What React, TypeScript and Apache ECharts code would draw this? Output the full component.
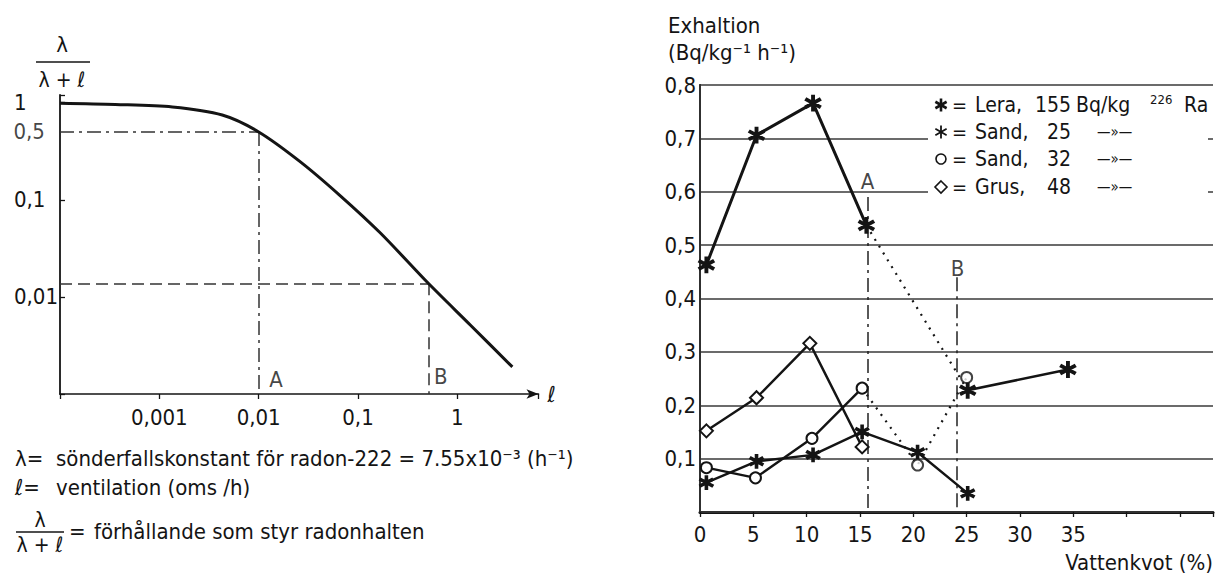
import React, { useEffect, useRef } from 'react';
import * as echarts from 'echarts';

const FONT = "'DejaVu Sans Condensed', 'Liberation Sans Narrow', 'DejaVu Sans', sans-serif";
const INK = '#141414';
const GRIDC = '#3a3a3a';
const FS = 22;

// ---------- Left panel: λ/(λ+ℓ) versus ventilation ℓ ----------
const ventilation = [0.0001, 0.00036, 0.00135, 0.0043, 0.01, 0.0263, 0.0664, 0.168, 0.51, 1.35, 3.58];
const ratio = [0.986, 0.958, 0.903, 0.747, 0.5, 0.246, 0.11, 0.0455, 0.0138, 0.00514, 0.0019];
const leftXLabels: Record<string, string> = { '-3': '0,001', '-2': '0,01', '-1': '0,1', '0': '1' };
const leftYLabels: Record<string, string> = { '-2': '0,01', '-1': '0,1', '0': '1' };
const ventA = 0.01;
const ratioA = 0.5;
const ventB = 0.51;
const ratioB = 0.0138;
const leftXMin = 0.0001;
const leftXMax = 6.56;
const leftYMin = 0.001;
const leftYMax = 1.2;

// ---------- Right panel: exhalation versus water ratio ----------
const leraSolid = [[0.6, 0.463], [5.3, 0.706], [10.6, 0.766], [15.6, 0.537]];
const leraDotted = [[15.6, 0.537], [25.1, 0.228]];
const leraTail = [[25.1, 0.228], [34.5, 0.267]];
const sand25 = [[0.6, 0.055], [5.3, 0.095], [10.6, 0.107], [15.2, 0.15], [20.4, 0.112], [25.1, 0.035]];
const sand32Solid = [[0.6, 0.083], [5.2, 0.064], [10.5, 0.138], [15.2, 0.232]];
const sand32Dotted = [[15.2, 0.232], [20.4, 0.088], [25, 0.252]];
const grus = [[0.6, 0.152], [5.3, 0.214], [10.3, 0.316], [15.2, 0.122]];
const markA = 15.75;
const markATop = 0.59;
const markB = 24.1;
const markBTop = 0.44;
const rightXMax = 48.1;
const rightXLastLabel = 35;

const legendKinds = ['asteriskBold', 'asterisk', 'circle', 'diamond'];
const legendNames = ['Lera,', 'Sand,', 'Sand,', 'Grus,'];
const legendActivity = ['155', '25', '32', '48'];

const ASTERISK =
  'path://M-1.3,-10L1.3,-10L1.3,10L-1.3,10ZM8.01,-6.13L9.31,-3.87L-8.01,6.13L-9.31,3.87ZM9.31,3.87L8.01,6.13L-9.31,-3.87L-8.01,-6.13Z';

const logLabel = (map: Record<string, string>) => (v: number) => {
  const l = Math.log10(v);
  const r = Math.round(l);
  if (Math.abs(l - r) > 0.01) return '';
  return map[String(r)] ?? '';
};

const txt = (text: string, x: number, y: number, extra: any = {}) => ({
  type: 'text',
  x,
  y,
  z: 20,
  silent: true,
  style: {
    text,
    fontSize: FS,
    fontFamily: FONT,
    fill: INK,
    textAlign: 'left',
    align: 'left',
    textVerticalAlign: 'middle',
    verticalAlign: 'middle',
    ...extra,
  },
});

const hline = (x1: number, x2: number, y: number, w = 1.4) => ({
  type: 'line',
  z: 20,
  silent: true,
  shape: { x1, y1: y, x2, y2: y },
  style: { stroke: INK, lineWidth: w },
});

const legendMarks = (kind: string, cx: number, cy: number): any[] => {
  if (kind === 'circle') {
    return [{ type: 'circle', z: 20, silent: true, shape: { cx, cy, r: 5 }, style: { fill: '#fff', stroke: INK, lineWidth: 1.6 } }];
  }
  if (kind === 'diamond') {
    return [
      {
        type: 'polygon',
        z: 20,
        silent: true,
        shape: { points: [[cx, cy - 6], [cx + 6, cy], [cx, cy + 6], [cx - 6, cy]] },
        style: { fill: '#fff', stroke: INK, lineWidth: 1.6 },
      },
    ];
  }
  const r = 6.5;
  const w = kind === 'asteriskBold' ? 2.6 : 1.8;
  return [90, 30, 150].map((deg) => {
    const a = (deg * Math.PI) / 180;
    return {
      type: 'line',
      z: 20,
      silent: true,
      shape: { x1: cx - r * Math.cos(a), y1: cy - r * Math.sin(a), x2: cx + r * Math.cos(a), y2: cy + r * Math.sin(a) },
      style: { stroke: INK, lineWidth: w },
    };
  });
};

export default function App() {
  const ref = useRef<HTMLDivElement>(null);

  useEffect(() => {
    if (!ref.current) return;
    const chart = echarts.init(ref.current, null, { renderer: 'svg' });

    const solid = (data: number[][], symbol: string, size: number, width: number, name: string) => ({
      type: 'line',
      name,
      xAxisIndex: 1,
      yAxisIndex: 1,
      data,
      symbol,
      symbolSize: size,
      showSymbol: true,
      lineStyle: { color: INK, width },
      itemStyle: { color: INK, borderColor: INK, borderWidth: 1.8 },
      z: 5,
    });
    const dotted = (data: number[][], name: string) => ({
      type: 'line',
      name,
      xAxisIndex: 1,
      yAxisIndex: 1,
      data,
      symbol: 'none',
      lineStyle: { color: INK, width: 2.2, type: [2, 6] },
      z: 4,
    });

    const legendGraphic: any[] = [
      { type: 'rect', silent: true, z: 15, shape: { x: 928, y: 92, width: 280, height: 108 }, style: { fill: '#fff' } },
    ];
    const rowsY = [105, 132, 159, 187];
    rowsY.forEach((y, i) => {
      legendGraphic.push(...legendMarks(legendKinds[i], 941, y));
      legendGraphic.push(txt('=', 952, y, { fontSize: 20 }));
      legendGraphic.push(txt(legendNames[i], 975, y, { fontSize: 21 }));
      legendGraphic.push(txt(legendActivity[i], 1071, y, { textAlign: 'right', align: 'right', fontSize: 21 }));
      if (i === 0) {
        legendGraphic.push(txt('Bq/kg', 1076, y, { fontSize: 21 }));
        legendGraphic.push(txt('226', 1150, y - 6, { fontSize: 13 }));
        legendGraphic.push(txt('Ra', 1184, y, { fontSize: 21 }));
      } else {
        legendGraphic.push(txt('—»—', 1097, y, { fontSize: 15 }));
      }
    });

    const pointLabel = { show: true, formatter: '{b}', position: [0, 0], align: 'center', verticalAlign: 'middle', fontSize: FS, color: INK };

    const option: any = {
      animation: false,
      backgroundColor: '#fff',
      textStyle: { fontFamily: FONT, color: INK },
      grid: [
        { left: 60, top: 95, width: 478.5, height: 299, containLabel: false },
        { left: 700, top: 85, width: 513, height: 427, containLabel: false },
      ],
      xAxis: [
        {
          type: 'log',
          gridIndex: 0,
          logBase: 10,
          min: leftXMin,
          max: leftXMax,
          name: 'ℓ',
          nameLocation: 'end',
          nameGap: 9,
          nameTextStyle: { fontSize: FS, color: INK, fontFamily: FONT, verticalAlign: 'middle' },
          axisLine: { show: true, lineStyle: { color: INK, width: 1.6 }, symbol: ['none', 'arrow'], symbolSize: [7, 12] },
          axisTick: { show: true, length: 5, lineStyle: { color: INK, width: 1.3 } },
          axisLabel: { fontSize: FS, color: INK, margin: 12, formatter: logLabel(leftXLabels), showMinLabel: true, showMaxLabel: true },
          splitLine: { show: false },
          minorTick: { show: false },
        },
        {
          type: 'value',
          gridIndex: 1,
          min: 0,
          max: rightXMax,
          interval: 5,
          name: 'Vattenkvot (%)',
          nameLocation: 'end',
          nameGap: 0,
          nameTextStyle: { fontSize: FS, color: INK, fontFamily: FONT, align: 'right', verticalAlign: 'top', padding: [39, 0, 0, 0] },
          axisLine: { show: true, lineStyle: { color: INK, width: 3 } },
          axisTick: { show: true, length: 5, lineStyle: { color: INK, width: 1.3 } },
          axisLabel: {
            fontSize: FS,
            color: INK,
            margin: 11,
            formatter: (v: number) => (v <= rightXLastLabel + 0.01 && Math.abs(v % 5) < 0.01 ? String(v) : ''),
          },
          splitLine: { show: false },
        },
        {
          type: 'value',
          gridIndex: 1,
          position: 'top',
          min: 0,
          max: rightXMax,
          interval: 5,
          axisLine: { show: true, lineStyle: { color: GRIDC, width: 1.5 } },
          axisTick: { show: false },
          axisLabel: { show: false },
          splitLine: { show: false },
        },
      ],
      yAxis: [
        {
          type: 'log',
          gridIndex: 0,
          logBase: 10,
          min: leftYMin,
          max: leftYMax,
          axisLine: { show: true, lineStyle: { color: INK, width: 1.8 } },
          axisTick: { show: true, inside: true, length: 5, lineStyle: { color: INK, width: 1.3 } },
          axisLabel: { fontSize: FS, color: INK, align: 'left', margin: 46, formatter: logLabel(leftYLabels) },
          splitLine: { show: false },
          minorTick: { show: false },
        },
        {
          type: 'value',
          gridIndex: 1,
          min: 0,
          max: 0.8,
          interval: 0.1,
          axisLine: { show: true, lineStyle: { color: INK, width: 2 } },
          axisTick: { show: false },
          axisLabel: {
            fontSize: FS,
            color: INK,
            margin: 4,
            formatter: (v: number) => (v < 0.05 ? '' : v.toFixed(1).replace('.', ',')),
          },
          splitLine: { show: true, lineStyle: { color: GRIDC, width: 1.5 } },
        },
        {
          type: 'value',
          gridIndex: 1,
          position: 'right',
          min: 0,
          max: 0.8,
          interval: 0.1,
          axisLine: { show: true, lineStyle: { color: GRIDC, width: 1.5 } },
          axisTick: { show: false },
          axisLabel: { show: false },
          splitLine: { show: false },
        },
      ],
      series: [
        {
          type: 'line',
          name: 'ratio',
          xAxisIndex: 0,
          yAxisIndex: 0,
          data: ventilation.map((v, i) => [v, ratio[i]]),
          smooth: 0.3,
          symbol: 'none',
          lineStyle: { color: INK, width: 3 },
          z: 5,
          markLine: {
            silent: true,
            symbol: 'none',
            label: { show: false },
            data: [
              [
                { coord: [leftXMin, ratioA], lineStyle: { type: [14, 5, 3, 5] } },
                { coord: [ventA, ratioA] },
              ],
              [
                { coord: [ventA, ratioA], lineStyle: { type: [14, 5, 3, 5] } },
                { coord: [ventA, leftYMin] },
              ],
              [
                { coord: [leftXMin, ratioB], lineStyle: { type: [12, 6] } },
                { coord: [ventB, ratioB] },
              ],
              [
                { coord: [ventB, ratioB], lineStyle: { type: [12, 6] } },
                { coord: [ventB, leftYMin] },
              ],
            ],
            lineStyle: { color: '#333', width: 1.5 },
          },
        },
        {
          type: 'scatter',
          name: 'left-labels',
          xAxisIndex: 0,
          yAxisIndex: 0,
          symbolSize: 1,
          itemStyle: { color: 'rgba(0,0,0,0)' },
          data: [
            { name: 'A', value: [0.0151, 0.0014] },
            { name: 'B', value: [0.69, 0.0015] },
          ],
          label: pointLabel,
          z: 6,
        },
        {
          type: 'scatter',
          name: 'half-label',
          xAxisIndex: 0,
          yAxisIndex: 0,
          symbolSize: 1,
          itemStyle: { color: 'rgba(0,0,0,0)' },
          data: [{ name: '0,5', value: [leftXMin, ratioA] }],
          label: { show: true, formatter: '{b}', position: [-46, 0], align: 'left', verticalAlign: 'middle', fontSize: FS, color: INK },
        },
        {
          ...solid(leraSolid, ASTERISK, 15, 3, 'Lera'),
          markLine: {
            silent: true,
            symbol: 'none',
            label: { show: false },
            lineStyle: { color: '#222', width: 1.5, type: [14, 5, 3, 5] },
            data: [
              [{ coord: [markA, markATop] }, { coord: [markA, 0] }],
              [{ coord: [markB, markBTop] }, { coord: [markB, 0] }],
            ],
          },
        },
        dotted(leraDotted, 'Lera gap'),
        solid(leraTail, ASTERISK, 15, 2.6, 'Lera tail'),
        solid(sand25, ASTERISK, 13, 2.4, 'Sand 25'),
        solid(sand32Solid, 'emptyCircle', 11, 2.4, 'Sand 32'),
        dotted(sand32Dotted, 'Sand 32 gap'),
        {
          type: 'scatter',
          name: 'Sand 32 wet',
          xAxisIndex: 1,
          yAxisIndex: 1,
          data: sand32Dotted.slice(1),
          symbol: 'emptyCircle',
          symbolSize: 11,
          itemStyle: { color: INK, borderColor: INK, borderWidth: 1.8 },
          z: 5,
        },
        solid(grus, 'emptyDiamond', 13, 2.4, 'Grus'),
        {
          type: 'scatter',
          name: 'right-labels',
          xAxisIndex: 1,
          yAxisIndex: 1,
          symbolSize: 1,
          itemStyle: { color: 'rgba(0,0,0,0)' },
          data: [
            { name: 'A', value: [markA, 0.618] },
            { name: 'B', value: [markB + 0.1, 0.455] },
          ],
          label: pointLabel,
          z: 6,
        },
      ],
      graphic: [
        // left y-axis title: fraction
        txt('λ', 62, 44, { textAlign: 'center', align: 'center' }),
        hline(36, 90, 62),
        txt('λ + ℓ', 62, 80, { textAlign: 'center', align: 'center', fontSize: 21 }),
        // left explanations
        txt('λ=', 15, 458),
        txt('sönderfallskonstant för radon-222 = 7.55x10⁻³ (h⁻¹)', 56, 458),
        txt('ℓ=', 15, 487),
        txt('ventilation (oms /h)', 56, 487),
        txt('λ', 40, 520, { textAlign: 'center', align: 'center', fontSize: 21 }),
        hline(16, 64, 532),
        txt('λ + ℓ', 40, 545, { textAlign: 'center', align: 'center', fontSize: 21 }),
        txt('=', 69, 531),
        txt('förhållande som styr radonhalten', 94, 531),
        // right y-axis title
        txt('Exhaltion', 668, 25),
        txt('(Bq/kg⁻¹ h⁻¹)', 668, 52),
        ...legendGraphic,
      ],
    };

    chart.setOption(option);
    return () => chart.dispose();
  }, []);

  return (
    <div
      ref={ref}
      style={{ position: 'fixed', left: 0, top: 0, width: 1224, height: 576, background: '#fff' }}
    />
  );
}
